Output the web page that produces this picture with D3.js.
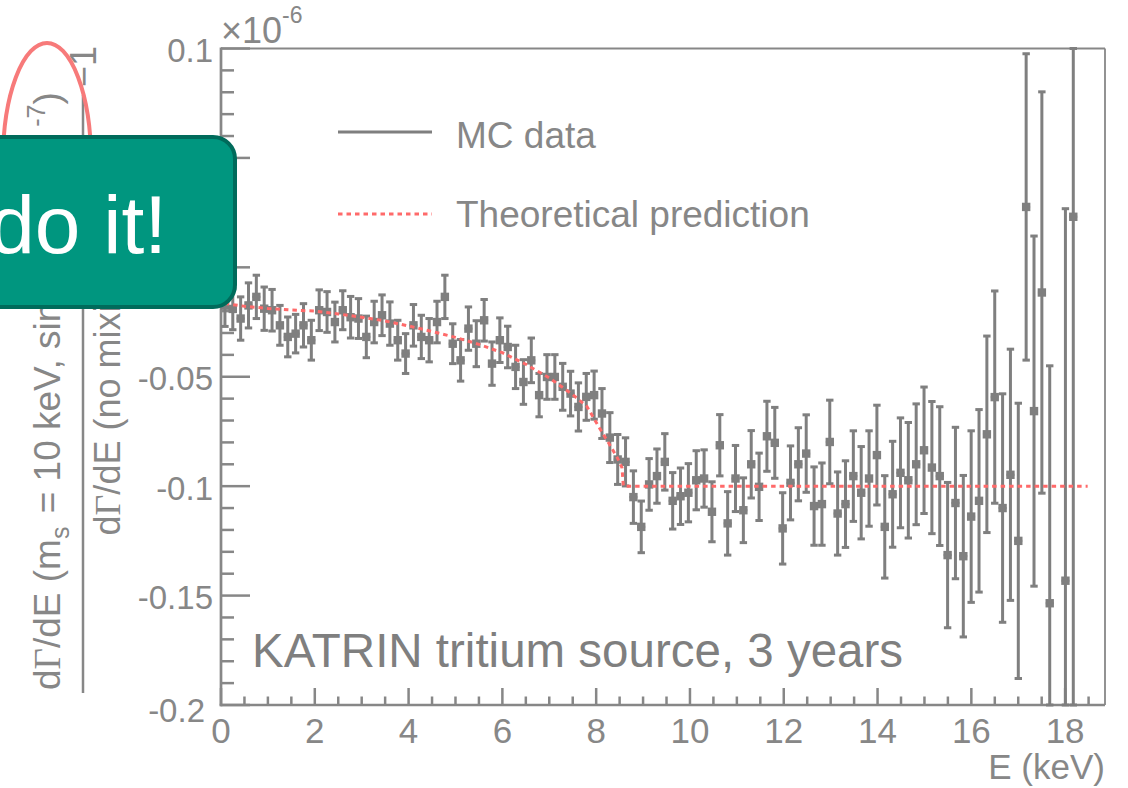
<!DOCTYPE html>
<html>
<head>
<meta charset="utf-8">
<script src="https://cdn.jsdelivr.net/npm/d3@7"></script>
<style>
  html, body { margin: 0; padding: 0; background: #fff; }
  svg { display: block; }
  text { font-family: "Liberation Sans", Arial, sans-serif; }
</style>
</head>
<body>
<svg id="chart" width="1128" height="788"></svg>
<script>
// Ratio of the beta spectrum with a 10 keV sterile neutrino to the no-mixing spectrum, minus one (units of 1e-6)
const binWidth = 0.1675; // keV

const ratioValues = [
  -0.0175, -0.0190, -0.0234, -0.0174, -0.0135, -0.0189, -0.0196, -0.0265, -0.0318, -0.0303,
  -0.0265, -0.0333, -0.0196, -0.0204, -0.0250, -0.0196, -0.0228, -0.0234, -0.0318, -0.0250,
  -0.0219, -0.0257, -0.0333, -0.0394, -0.0265, -0.0318, -0.0333, -0.0250, -0.0135, -0.0349,
  -0.0425, -0.0280, -0.0349, -0.0242, -0.0440, -0.0333, -0.0364, -0.0455, -0.0524, -0.0425,
  -0.0584, -0.0501, -0.0501, -0.0546, -0.0577, -0.0638, -0.0592, -0.0584, -0.0668, -0.0778,
  -0.0878, -0.0889, -0.1050, -0.1186, -0.0992, -0.0954, -0.0889, -0.1067, -0.1046, -0.1030,
  -0.0973, -0.0965, -0.1117, -0.0813, -0.1170, -0.0965, -0.1110, -0.0900, -0.1003, -0.0772,
  -0.0802, -0.1193, -0.0985, -0.0900, -0.0851, -0.1091, -0.1082, -0.0798, -0.1125, -0.1082,
  -0.0954, -0.1030, -0.0965, -0.0858, -0.1186, -0.1037, -0.0939, -0.0973, -0.0900, -0.0836,
  -0.0915, -0.0954, -0.1315, -0.1077, -0.1320, -0.1139, -0.1067, -0.0763, -0.0593, -0.1100,
  -0.0948, -0.1250,  0.0276, -0.0657, -0.0115, -0.1535,  null,  -0.1432,  0.0231
];

const ratioErrors = [
  0.0095, 0.0095, 0.0099, 0.0103, 0.0099, 0.0099, 0.0095, 0.0091, 0.0091, 0.0088,
  0.0099, 0.0091, 0.0093, 0.0093, 0.0091, 0.0089, 0.0095, 0.0091, 0.0095, 0.0095,
  0.0093, 0.0099, 0.0091, 0.0091, 0.0095, 0.0099, 0.0099, 0.0095, 0.0099, 0.0091,
  0.0095, 0.0099, 0.0105, 0.0095, 0.0099, 0.0102, 0.0095, 0.0099, 0.0102, 0.0102,
  0.0099, 0.0102, 0.0102, 0.0107, 0.0102, 0.0110, 0.0107, 0.0110, 0.0114, 0.0114,
  0.0114, 0.0110, 0.0120, 0.0118, 0.0118, 0.0124, 0.0129, 0.0129, 0.0129, 0.0133,
  0.0135, 0.0131, 0.0137, 0.0140, 0.0145, 0.0151, 0.0148, 0.0154, 0.0154, 0.0160,
  0.0162, 0.0163, 0.0169, 0.0167, 0.0177, 0.0179, 0.0188, 0.0191, 0.0190, 0.0198,
  0.0207, 0.0211, 0.0218, 0.0228, 0.0234, 0.0242, 0.0251, 0.0264, 0.0276, 0.0289,
  0.0302, 0.0317, 0.0332, 0.0346, 0.0369, 0.0392, 0.0417, 0.0449, 0.0485, 0.0522,
  0.0574, 0.0629, 0.0700, 0.0800, 0.0917, 0.1085, null,   0.1700, 0.2500
];

// Theoretical prediction (energy in keV, ratio)
const theoryEnergy = [0.08, 0.5, 1.0, 1.5, 2.0, 2.5, 3.0, 3.5, 4.0, 4.5, 5.0, 5.5, 6.0, 6.5, 7.0, 7.5, 7.8, 8.1, 8.3, 8.45, 8.55, 8.58, 18.48];
const theoryValue  = [-0.0165, -0.0178, -0.0188, -0.0195, -0.0200, -0.0213, -0.0228, -0.0245, -0.0268, -0.0293,
                      -0.0320, -0.0352, -0.0390, -0.0443, -0.0505, -0.0582, -0.0635, -0.0745, -0.0815, -0.0870,
                      -0.0915, -0.1000, -0.1000];

// Axis ticks and labels
const xMajorTicks = [0, 2, 4, 6, 8, 10, 12, 14, 16, 18];
const xTickLabels = ["0", "2", "4", "6", "8", "10", "12", "14", "16", "18"];
const yMajorTicks = [-0.2, -0.15, -0.1, -0.05, 0, 0.05, 0.1];
const yTickLabels = ["-0.2", "-0.15", "-0.1", "-0.05", "0", "0.05", "0.1"];

const legendLabels = ["MC data", "Theoretical prediction"];

// ---------------------------------------------------------------------------
const svg = d3.select("#chart");
const gray = "#878787";
const markGray = "#7f7f7f";
const red = "#ff6a6a";

const plot = { left: 221, right: 1105, top: 48.5, bottom: 705 };
const x = d3.scaleLinear().domain([0, 18.85]).range([plot.left, plot.right]);
const y = d3.scaleLinear().domain([-0.2, 0.1]).range([plot.bottom, plot.top]);
const yc = y.copy().clamp(true);

// Frame
svg.append("line").attr("x1", plot.left).attr("x2", plot.right).attr("y1", plot.top).attr("y2", plot.top)
  .attr("stroke", gray).attr("stroke-width", 1.8);
svg.append("line").attr("x1", plot.right).attr("x2", plot.right).attr("y1", plot.top).attr("y2", plot.bottom)
  .attr("stroke", gray).attr("stroke-width", 1.8);
svg.append("line").attr("x1", plot.left).attr("x2", plot.left).attr("y1", plot.top - 1).attr("y2", plot.bottom + 1.3)
  .attr("stroke", gray).attr("stroke-width", 2.7);
svg.append("line").attr("x1", plot.left - 1.3).attr("x2", plot.right).attr("y1", plot.bottom).attr("y2", plot.bottom)
  .attr("stroke", gray).attr("stroke-width", 2.7);

// X ticks
const xMinor = d3.range(0, 18.85, 0.5).filter(v => Math.abs(v / 2 - Math.round(v / 2)) > 1e-6);
svg.append("g").selectAll("line").data(xMinor).join("line")
  .attr("x1", d => x(d)).attr("x2", d => x(d))
  .attr("y1", plot.bottom).attr("y2", plot.bottom - 8.5)
  .attr("stroke", gray).attr("stroke-width", 2.5);
svg.append("g").selectAll("line").data(xMajorTicks).join("line")
  .attr("x1", d => x(d)).attr("x2", d => x(d))
  .attr("y1", plot.bottom).attr("y2", plot.bottom - 17)
  .attr("stroke", gray).attr("stroke-width", 2.5);
svg.append("g").selectAll("text").data(xMajorTicks).join("text")
  .attr("x", d => x(d)).attr("y", 743)
  .attr("text-anchor", "middle").attr("font-size", 35).attr("fill", gray)
  .text((d, i) => xTickLabels[i]);

// Y ticks
const yMinor = d3.range(-20, 11).map(k => k / 100).filter(v => Math.abs(v * 20 - Math.round(v * 20)) > 1e-6);
svg.append("g").selectAll("line").data(yMinor).join("line")
  .attr("x1", plot.left).attr("x2", plot.left + 13)
  .attr("y1", d => y(d)).attr("y2", d => y(d))
  .attr("stroke", gray).attr("stroke-width", 2.5);
svg.append("g").selectAll("line").data(yMajorTicks).join("line")
  .attr("x1", plot.left).attr("x2", plot.left + 29)
  .attr("y1", d => y(d)).attr("y2", d => y(d))
  .attr("stroke", gray).attr("stroke-width", 2.5);
svg.append("g").selectAll("text").data(yMajorTicks).join("text")
  .attr("x", (d, i) => i === 0 ? 205 : 213)
  .attr("y", (d, i) => y(d) + (i === 0 ? 17 : 13.5))
  .attr("text-anchor", "end").attr("font-size", 33).attr("fill", gray)
  .text((d, i) => yTickLabels[i]);

// Exponent
const expo = svg.append("text").attr("x", 221).attr("y", 43).attr("font-size", 36).attr("fill", gray);
expo.append("tspan").text("\u00d710");
expo.append("tspan").attr("font-size", 23).attr("dy", -20).text("-6");

// X title
svg.append("text").attr("x", plot.right).attr("y", 779).attr("text-anchor", "end")
  .attr("font-size", 35).attr("fill", gray).text("E (keV)");

// Data points
const points = ratioValues.map((v, i) => ({ e: (i + 0.5) * binWidth, v, err: ratioErrors[i] }))
  .filter(d => d.v !== null);
const gData = svg.append("g").attr("fill", markGray).attr("stroke", markGray);
gData.selectAll("line.err").data(points).join("line").attr("class", "err")
  .attr("x1", d => x(d.e)).attr("x2", d => x(d.e))
  .attr("y1", d => yc(d.v - d.err)).attr("y2", d => yc(d.v + d.err))
  .attr("stroke-width", 3);
gData.selectAll("line.capT").data(points).join("line").attr("class", "capT")
  .attr("x1", d => x(d.e) - 3.7).attr("x2", d => x(d.e) + 3.7)
  .attr("y1", d => yc(d.v + d.err)).attr("y2", d => yc(d.v + d.err))
  .attr("stroke-width", 3);
gData.selectAll("line.capB").data(points).join("line").attr("class", "capB")
  .attr("x1", d => x(d.e) - 3.7).attr("x2", d => x(d.e) + 3.7)
  .attr("y1", d => yc(d.v - d.err)).attr("y2", d => yc(d.v - d.err))
  .attr("stroke-width", 3);
gData.selectAll("line.xerr").data(points).join("line").attr("class", "xerr")
  .attr("x1", d => x(d.e - binWidth / 2)).attr("x2", d => x(d.e + binWidth / 2))
  .attr("y1", d => y(d.v)).attr("y2", d => y(d.v))
  .attr("stroke-width", 2.2);
gData.selectAll("rect").data(points).join("rect")
  .attr("x", d => x(d.e) - 4.2).attr("y", d => y(d.v) - 4.2)
  .attr("width", 8.4).attr("height", 8.4).attr("stroke", "none");

// Theoretical prediction
const theory = theoryEnergy.map((e, i) => [e, theoryValue[i]]);
svg.append("path").datum(theory)
  .attr("d", d3.line().x(d => x(d[0])).y(d => y(d[1])))
  .attr("fill", "none").attr("stroke", red).attr("stroke-width", 3)
  .attr("stroke-dasharray", "4.5,4");

// Legend
svg.append("line").attr("x1", 338).attr("x2", 432).attr("y1", 132).attr("y2", 132)
  .attr("stroke", markGray).attr("stroke-width", 3);
svg.append("line").attr("x1", 338).attr("x2", 432).attr("y1", 214).attr("y2", 214)
  .attr("stroke", red).attr("stroke-width", 3).attr("stroke-dasharray", "4.5,4");
svg.append("text").attr("x", 456).attr("y", 147.5).attr("font-size", 37).attr("fill", gray).text(legendLabels[0]);
svg.append("text").attr("x", 456).attr("y", 227).attr("font-size", 37).attr("fill", gray).text(legendLabels[1]);

// Annotation
svg.append("text").attr("x", 252).attr("y", 667).attr("font-size", 47.5).attr("fill", markGray)
  .text("KATRIN tritium source, 3 years");

// Y title: fraction of spectra minus one
const serif = "\"Liberation Serif\", \"DejaVu Serif\", serif";
const num = svg.append("text").attr("transform", "translate(60,690) rotate(-90)")
  .attr("font-size", 37).attr("fill", gray);
num.append("tspan").text("d");
num.append("tspan").attr("font-family", serif).text("\u0393");
num.append("tspan").text("/dE (m");
num.append("tspan").attr("font-size", 25).attr("dy", 9).text("s");
num.append("tspan").attr("dy", -9).attr("dx", 3).text(" = 10 keV, sin");
num.append("tspan").attr("font-size", 25).attr("dy", -15).text("2");
num.append("tspan").attr("font-family", serif).attr("dy", 15).attr("dx", 20).text("\u03b8");
num.append("tspan").attr("dx", 20).text(" = 10");
num.append("tspan").attr("font-size", 25).attr("dy", -15).attr("dx", 20).text("-7");
num.append("tspan").attr("dy", 15).text(")");

svg.append("line").attr("x1", 83).attr("x2", 83).attr("y1", 95).attr("y2", 693)
  .attr("stroke", gray).attr("stroke-width", 2.5);

const den = svg.append("text").attr("transform", "translate(120,394) rotate(-90)")
  .attr("text-anchor", "middle").attr("font-size", 36).attr("fill", gray);
den.append("tspan").text("d");
den.append("tspan").attr("font-family", serif).text("\u0393");
den.append("tspan").text("/dE (no mixing)");

svg.append("text").attr("transform", "translate(96,46) rotate(-90)")
  .attr("text-anchor", "end").attr("font-size", 36).attr("fill", gray).text("\u22121");

// Highlight ring
svg.append("ellipse").attr("cx", 47).attr("cy", 160).attr("rx", 44).attr("ry", 117)
  .attr("fill", "none").attr("stroke", "#f77a7a").attr("stroke-width", 4);

// Callout box
svg.append("rect").attr("x", -40).attr("y", 137).attr("width", 275).attr("height", 170).attr("rx", 22)
  .attr("fill", "#00967f").attr("stroke", "#006b5b").attr("stroke-width", 4);
svg.append("text").attr("x", 167).attr("y", 253).attr("text-anchor", "end")
  .attr("font-size", 82).attr("fill", "#ffffff").text("do it!");
</script>
</body>
</html>
